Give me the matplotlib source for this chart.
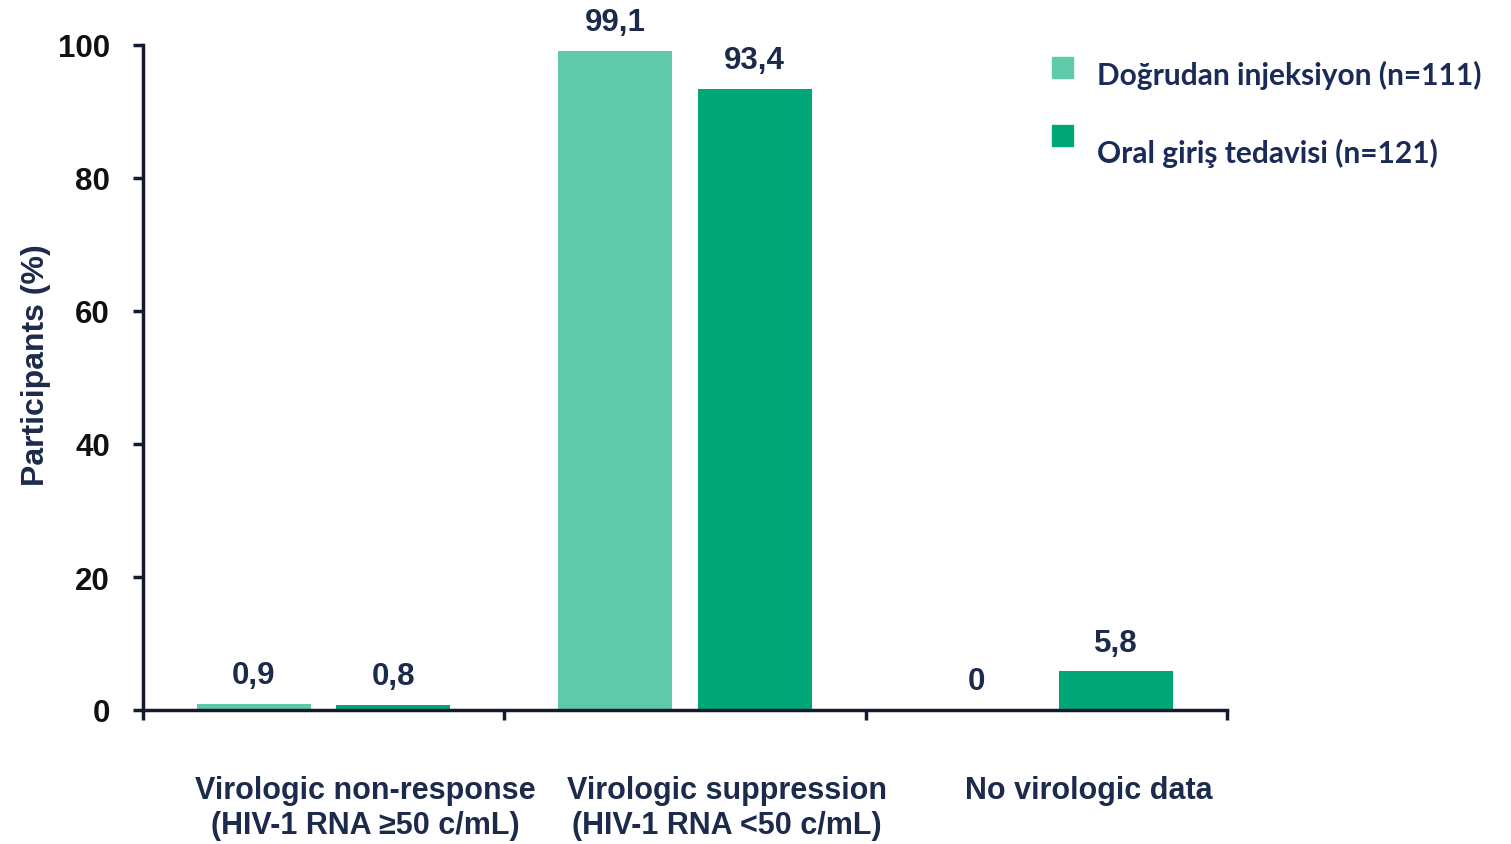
import numpy as np
import matplotlib
matplotlib.use("Agg")
import matplotlib.pyplot as plt
from matplotlib.patches import Rectangle
from matplotlib.transforms import blended_transform_factory, ScaledTranslation

categories = [
    "Virologic non-response\n(HIV-1 RNA \u226550 c/mL)",
    "Virologic suppression\n(HIV-1 RNA <50 c/mL)",
    "No virologic data",
]
series_names = ["Do\u011frudan injeksiyon (n=111)", "Oral giri\u015f tedavisi (n=121)"]
injection = [0.9, 99.1, 0.0]
oral = [0.8, 93.4, 5.8]
y_ticks = [0, 20, 40, 60, 80, 100]

light = "#5ECAAA"
dark = "#00A676"
navy = "#1C2A4C"
axis_col = "#141A2E"

fig = plt.figure(figsize=(15.11, 8.45), dpi=100)
ax = fig.add_axes([143 / 1511, 1 - 711 / 845, (1227 - 143) / 1511, (711 - 46) / 845])

x = np.arange(len(categories)) + 0.5
w = 0.316
off = 0.193

def fmt(v):
    return f"{v:g}".replace(".", ",")

bars_a = ax.bar(x - off, injection, width=w, color=light, zorder=2)
bars_b = ax.bar(x + off, oral, width=w, color=dark, zorder=2)

for bars, vals in ((bars_a, injection), (bars_b, oral)):
    for b, v in zip(bars, vals):
        ax.annotate(fmt(v), (b.get_x() + b.get_width() / 2, v),
                    xytext=(0, 10), textcoords="offset points",
                    ha="center", va="bottom", fontsize=22.5, fontweight="bold",
                    color=navy, family="Liberation Sans")

ax.set_xlim(0, 3)
ax.set_ylim(0, 100)
ax.set_yticks(y_ticks)
ax.set_yticklabels([str(t) for t in y_ticks], fontsize=22.5, fontweight="bold",
                   color="#111111", family="Liberation Sans")
ax.tick_params(axis="y", length=7.2, width=2.5, color=axis_col, pad=16.5)

ax.set_xticks([0, 1, 2, 3])
ax.set_xticklabels([])
ax.tick_params(axis="x", length=7.5, width=2.5, color=axis_col)

for s in ("top", "right"):
    ax.spines[s].set_visible(False)
for s in ("left", "bottom"):
    ax.spines[s].set_linewidth(2.5)
    ax.spines[s].set_color(axis_col)

# category labels below the axis
trans = blended_transform_factory(ax.transData, ax.transAxes) + \
    ScaledTranslation(0.42, -0.65, fig.dpi_scale_trans)
for xi, lab in zip(x, categories):
    ax.text(xi, 0, lab, transform=trans, ha="center", va="top",
            fontsize=22, fontweight="bold", color=navy, linespacing=1.22,
            family="Liberation Sans")

ax.set_ylabel("Participants (%)", fontsize=23, fontweight="bold", color=navy,
              family="Liberation Sans", labelpad=5)
ax.yaxis.set_label_coords(-0.085, 0.52)

# legend drawn in figure space
sq = 21
for (yc_sq, yc_txt), col, name in zip(((68, 75), (136, 153)), (light, dark), series_names):
    fig.add_artist(Rectangle((1052 / 1511, 1 - (yc_sq + sq / 2) / 845), sq / 1511, sq / 845,
                             transform=fig.transFigure, color=col))
    fig.text(1097 / 1511, 1 - yc_txt / 845, name, ha="left", va="center",
             fontsize=21.5, fontweight="bold", color="#1A2B57", family="Lato")

fig.savefig("out.png", dpi=100)
